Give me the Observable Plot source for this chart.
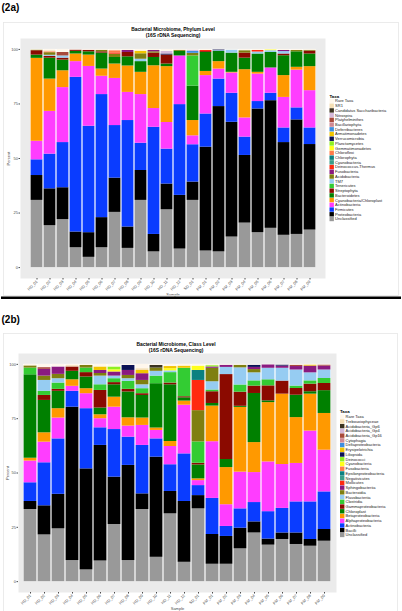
<!DOCTYPE html>
<html><head><meta charset="utf-8">
<script src="https://cdn.jsdelivr.net/npm/d3@7"></script>
<script src="https://cdn.jsdelivr.net/npm/@observablehq/plot@0.6"></script>
<style>
body{margin:0;background:#fff;}
#page{position:relative;width:402px;height:611px;overflow:hidden;background:#fff;}
#page svg{position:absolute;}
</style></head><body><div id="page"></div>
<script>
const samples = ["HD_01","HD_02","HD_03","HD_04","HD_05","HD_06","HD_07","HD_08","HD_09","HD_10","HD_11","HD_12","SD_01","PM_01","PM_02","PM_03","PM_04","PM_05","PM_06","PM_07","PM_08","PM_09"];

// ---- (2a) Phylum level ----
const phylumTaxa = ["Rare Taxa","SR1","Candidatus Saccharibacteria","Nitrospira","Platyhelminthes","Bacillariophyta","Deferribacteres","Armatimonadetes","Verrucomicrobia","Planctomycetes","Gemmatimonadetes","Chloroflexi","Chlorophyta","Cyanobacteria","Deinococcus-Thermus","Fusobacteria","Acidobacteria","TM7","Tenericutes","Streptophyta","Bacteroidetes","Cyanobacteria/Chloroplast","Actinobacteria","Firmicutes","Proteobacteria","Unclassified"];
const pUnclassified   = [30.8,19.2,22.0,9.1,4.7,9.1,25.3,8.8,30.8,7.2,26.5,8.5,30.8,7.6,7.2,14.0,20.4,16.0,18.0,14.8,15.2,17.2];
const pProteobacteria = [11.4,16.9,14.6,7.2,11.3,13.8,15.7,9.8,13.7,8.0,11.8,24.6,8.4,47.6,66.6,52.6,31.0,56.7,58.5,42.5,52.5,39.2];
const pFirmicutes     = [7.2,15.9,20.7,70.9,48.8,56.4,24.1,48.8,12.5,49.1,16.0,41.6,17.1,15.2,12.6,13.3,8.4,3.4,3.4,6.7,5.5,7.6];
const pActinobacteria = [8.5,19.6,25.2,7.2,27.4,8.4,21.6,12.9,22.3,8.6,12.2,22.3,4.1,17.6,4.6,9.3,8.8,12.6,11.6,14.0,17.3,17.1];
const pCyanoChloro    = [38.0,14.8,7.7,3.5,5.2,3.3,6.6,12.1,10.2,19.6,25.6,0,7.0,1.9,3.4,0.3,22.1,0.8,0,10.0,1.3,11.0];
const pBacteroidetes  = [1.5,9.6,4.9,1.2,1.5,7.3,3.0,4.2,4.9,3.8,1.2,2.1,15.8,8.7,4.7,8.8,5.3,8.4,7.1,9.1,7.1,5.8];
const pStreptophyta   = [2.0,0.8,0.9,0.6,0.7,0.6,0,2.0,0,2.0,4.1,0,0,0.4,0,0,2.3,0,0,0.8,0,1.3];
const pTenericutes    = [0,0,0,0,0,0,0,0,0,0,0,0,13.8,0,0,0,0,0,0,0,0,0];
const pTM7            = [0,0.5,1.0,0,0,0,0,0,1.1,0,0,0,0,0,0.3,1.4,0,0.9,0.8,1.1,0,0];
const pAcidobacteria  = [0.3,1.2,0,0,0,0.7,1.5,0,2.5,0.6,0,0.5,1.2,0,0,0,1.1,0,0,0,0.6,0.4];
const pFusobacteria   = [0,0,0,0,0,0,0,0.9,0,0.6,0,0,0,0,0,0,0,0,0,0.5,0,0];
const pDeinococcus    = [0,0,0,0,0,0,0.6,0,0,0,0,0,0,0.5,0,0,0,0.7,0,0,0,0];
const pChloroflexi    = [0,0.4,0,0,0,0,1.0,0,0,0,0,0,0,0,0,0,0,0,0,0,0,0];
const pGemmatimonadetes = [0,0,0,0,0,0,0,0,0,0,0,0,0,0,0,0,0,0,0.4,0,0,0];
const pVerrucomicrobia  = [0,0,0,0,0,0,0,0,0,0,0.5,0,0,0,0.4,0,0,0,0,0,0,0];
const pArmatimonadetes  = [0,0,0,0,0,0,0,0,1.2,0,0,0,0,0,0,0,0,0,0,0,0,0];
const pDeferribacteres  = [0,0,0,0,0,0,0,0,0,0,0,0,0.9,0,0,0,0,0,0,0,0,0];
const pPlatyhelminthes  = [0,0,1.6,0,0,0,0,0,0,0,0,0,0,0,0,0,0,0,0,0,0,0];
const pNitrospira       = [0,0,0,0,0,0,0,0,0,0,1.2,0,0.6,0,0,0,0,0,0,0,0,0];
const pSR1              = [0,0.5,0,0,0,0,0,0,0,0,0,0,0,0,0,0,0,0,0,0,0,0];
const pRare             = [0.3,0.6,1.4,0.3,0.4,0.4,0.6,0.5,0.8,0.5,0.9,0.4,0.3,0.5,0.2,0.3,0.6,0.5,0.2,0.5,0.5,0.4];

const phylumSeries = [
  ["Unclassified", pUnclassified], ["Proteobacteria", pProteobacteria], ["Firmicutes", pFirmicutes],
  ["Actinobacteria", pActinobacteria], ["Cyanobacteria/Chloroplast", pCyanoChloro], ["Bacteroidetes", pBacteroidetes],
  ["Streptophyta", pStreptophyta], ["Tenericutes", pTenericutes], ["TM7", pTM7], ["Acidobacteria", pAcidobacteria],
  ["Fusobacteria", pFusobacteria], ["Deinococcus-Thermus", pDeinococcus], ["Chloroflexi", pChloroflexi],
  ["Gemmatimonadetes", pGemmatimonadetes], ["Verrucomicrobia", pVerrucomicrobia], ["Armatimonadetes", pArmatimonadetes],
  ["Deferribacteres", pDeferribacteres], ["Platyhelminthes", pPlatyhelminthes], ["Nitrospira", pNitrospira],
  ["SR1", pSR1], ["Rare Taxa", pRare]
];

// ---- (2b) Class level ----
const classTaxa = ["Rare Taxa","Trebouxiophyceae","Acidobacteria_Gp6","Acidobacteria_Gp4","Acidobacteria_Gp16","Cytophagia","Deltaproteobacteria","Erysipelotrichia","Liliopsida","Deinococci","Cyanobacteria","Fusobacteria","Epsilonproteobacteria","Negativicutes","Mollicutes","Sphingobacteriia","Bacteroidia","Flavobacteriia","Clostridia","Gammaproteobacteria","Chloroplast","Betaproteobacteria","Alphaproteobacteria","Actinobacteria","Bacilli","Unclassified"];
const cUnclassified = [33.2,21.5,24.3,9.7,5.4,9.5,26.3,9.7,33.2,11.2,31.2,8.9,33.5,8.0,8.0,15.1,22.4,16.8,19.4,17.1,16.3,18.6];
const cBacilli      = [3.7,13.4,15.9,70.6,46.5,53.2,21.8,43.8,7.2,46.1,10.3,28.0,6.1,13.7,12.8,9.5,5.1,2.8,3.0,5.3,3.1,5.4];
const cActinobacteria = [8.6,19.8,25.5,7.3,27.7,8.1,21.9,13.0,22.3,8.4,12.3,21.9,4.6,16.6,4.6,8.9,8.9,12.6,11.3,14.3,17.3,17.3];
const cAlpha        = [10.0,9.5,9.6,2.3,6.9,4.2,10.3,5.1,9.2,3.9,8.4,22.4,2.3,26.1,10.0,16.9,13.8,22.9,20.2,17.7,32.6,19.2];
const cBeta         = [1.3,4.3,4.3,3.0,2.3,1.8,4.6,3.8,3.4,1.1,2.3,1.9,0.8,16.4,17.1,29.8,13.8,27.3,32.4,21.1,17.0,16.9];
const cChloroplast  = [38.4,14.9,8.0,3.9,5.4,3.1,5.7,11.9,10.4,20.4,26.1,1.5,6.4,1.2,3.7,0.5,22.6,0.8,0,10.3,1.1,10.5];
const cGamma        = [0,2.3,0.9,2.0,2.0,8.1,1.0,1.2,0.8,0,0.8,0.5,0.8,5.4,39.1,6.5,3.4,6.9,6.0,3.1,3.5,3.3];
const cClostridia   = [3.1,1.9,2.9,0,2.1,2.6,1.8,3.7,2.3,3.5,4.8,13.1,9.8,0.8,0,3.3,2.4,2.8,0,1.1,1.5,2.3];
const cFlavo        = [0,5.0,2.0,0,0,4.0,1.2,1.2,1.8,2.2,0.8,0,0,3.8,3.3,7.9,3.7,5.3,5.9,7.4,3.7,3.9];
const cBacteroidia  = [1.0,2.0,2.0,0,1.2,1.2,0,1.5,2.0,1.5,0,0,14.4,6.2,0,1.2,1.5,0,0,0,0,0];
const cSphingo      = [0,3.1,3.4,0,0,1.4,1.9,2.3,3.1,0,0,0,0,0.6,1.0,0,1.0,1.6,1.0,1.6,3.1,1.8];
const cMollicutes   = [0,0,0,0,0,0,0,0,0,0,0,0,13.9,0,0,0,0,0,0,0,0,0];
const cEpsilon      = [0,0,0,0,0,0,0,0,0,0,0,0,4.6,0,0,0,0,0,0,0,0,0];
const cCyanobacteria = [0,0,0,0,0,0,1.0,0,0,0,1.0,0,2.0,0,0,0,0,0,0,0,0,0];
const cDeinococci   = [0,0,0,0,0,0,1.3,0,0,0,0,0,0,0.6,0,0,0,0,0,0,0,0];
const cLiliopsida   = [0,0,0,0,0,0,0,2.3,0,0,0,0,0,0,0,0,1.0,0,0.5,0,0,0];
const cErysipelotrichia = [0,0,0,0,0,1.6,0,0,1.5,0,1.0,1.0,0,0,0,0,0,0,0,0,0.5,0];
const cGp16         = [0,0.8,0,0,0,0,0,0,0,0,0,0,0,0,0,0,0,0,0,0.6,0,0.5];
const cGp6          = [0,0,0,0,0,0,0,0,0,1.2,0,0,0,0,0,0,0,0,0,0,0,0];
const cTrebouxiophyceae = [0,0,0,0.6,0,0,0,0,0.8,0,0,0,0,0,0,0,0,0,0,0,0,0];
const cRare         = [0.7,1.5,1.2,0.6,0.5,1.2,1.2,0.5,2.0,0.5,1.0,0.8,0.8,0.6,0.4,0.4,0.4,0.2,0.3,0.4,0.3,0.3];

const classSeries = [
  ["Unclassified", cUnclassified], ["Bacilli", cBacilli], ["Actinobacteria", cActinobacteria],
  ["Alphaproteobacteria", cAlpha], ["Betaproteobacteria", cBeta], ["Chloroplast", cChloroplast],
  ["Gammaproteobacteria", cGamma], ["Clostridia", cClostridia], ["Flavobacteriia", cFlavo],
  ["Bacteroidia", cBacteroidia], ["Sphingobacteriia", cSphingo], ["Mollicutes", cMollicutes],
  ["Epsilonproteobacteria", cEpsilon], ["Cyanobacteria", cCyanobacteria], ["Deinococci", cDeinococci],
  ["Liliopsida", cLiliopsida], ["Erysipelotrichia", cErysipelotrichia], ["Acidobacteria_Gp16", cGp16],
  ["Acidobacteria_Gp6", cGp6], ["Trebouxiophyceae", cTrebouxiophyceae], ["Rare Taxa", cRare]
];

// shared palette, in legend order (top -> bottom)
const palette = ["#FFF7EC","#F5DEB3","#3A3320","#D4B8DA","#A8493B","#D08A95","#3D8EE0","#F2C500","#0B1255","#8EF020","#FFFF1A","#FF7A4A","#0A8080","#3A9E8A","#FF2A10","#8A1A80","#7F7F10","#96CCF2","#33CC33","#8B0A00","#008000","#FF9900","#FF3DFF","#0A3CFF","#000000","#999999"];

const FONT = "Liberation Sans, Arial, Helvetica, sans-serif";

function toRows(series) {
  const rows = [];
  for (const [taxon, vals] of series) vals.forEach((v, i) => { if (v > 0) rows.push({sample: samples[i], taxon, value: v}); });
  return rows;
}

function chart({series, taxa, width, height, marginLeft, marginRight, marginBottom, yLabelOffset, xLabelOffset}) {
  return Plot.plot({
    width, height, marginLeft, marginRight, marginTop: 0, marginBottom,
    style: {fontFamily: FONT, fontSize: "4px", color: "#4d4d4d", background: "transparent", overflow: "visible"},
    x: {domain: samples, padding: 0},
    y: {domain: [-5, 105]},
    color: {domain: taxa, range: palette},
    marks: [
      Plot.frame({fill: "#EBEBEB", stroke: null}),
      Plot.barY(samples, {x: d => d, y1: 0, y2: 100, fill: "white"}),
      Plot.barY(toRows(series), {x: "sample", y: "value", fill: "taxon", order: [...taxa].reverse(), insetLeft: 0.6, insetRight: 0.6}),
      Plot.axisY({ticks: [0, 25, 50, 75, 100], tickSize: 1.5, tickPadding: 1, fontSize: 4, label: "Percent", labelAnchor: "center", labelArrow: "none", labelOffset: yLabelOffset}),
      Plot.axisX({tickRotate: -45, tickSize: 1.5, tickPadding: 1, fontSize: 4, label: "Sample", labelAnchor: "center", labelArrow: "none", labelOffset: xLabelOffset})
    ]
  });
}

const page = document.getElementById("page");

const chartA = chart({series: phylumSeries, taxa: phylumTaxa, width: 330, height: 258, marginLeft: 20, marginRight: 5, marginBottom: 18, yLabelOffset: 13, xLabelOffset: 17});
chartA.style.left = "0px"; chartA.style.top = "38px";
page.appendChild(chartA);

const chartB = chart({series: classSeries, taxa: classTaxa, width: 340, height: 258, marginLeft: 18, marginRight: 4, marginBottom: 19, yLabelOffset: 12, xLabelOffset: 17});
chartB.style.left = "0px"; chartB.style.top = "353px";
page.appendChild(chartB);

// overlay: figure labels, frames, titles, legends
const svg = d3.select(page).append("svg").attr("width", 402).attr("height", 611)
  .style("left", "0px").style("top", "0px").style("pointer-events", "none")
  .attr("font-family", FONT);

svg.append("rect").attr("x", 3.5).attr("y", 22.5).attr("width", 395).attr("height", 273).attr("fill", "none").attr("stroke", "#e6e6e6").attr("stroke-width", 0.8);
svg.append("rect").attr("x", 3.5).attr("y", 333.5).attr("width", 394).attr("height", 300).attr("fill", "none").attr("stroke", "#e6e6e6").attr("stroke-width", 0.8);
svg.append("rect").attr("x", 1).attr("y", 296.5).attr("width", 400).attr("height", 2.5).attr("fill", "#000");

svg.append("text").attr("x", 1.5).attr("y", 11).attr("font-size", 10).attr("font-weight", "bold").text("(2a)");
svg.append("text").attr("x", 1.5).attr("y", 323).attr("font-size", 10).attr("font-weight", "bold").text("(2b)");

function title(cx, y1, y2, line1) {
  svg.append("text").attr("x", cx).attr("y", y1).attr("text-anchor", "middle").attr("font-size", 4.9).attr("font-weight", "bold").text(line1);
  svg.append("text").attr("x", cx).attr("y", y2).attr("text-anchor", "middle").attr("font-size", 4.9).attr("font-weight", "bold").text("(16S rDNA Sequencing)");
}
title(173, 31, 36.8, "Bacterial Microbiome, Phylum Level");
title(176, 346, 352, "Bacterial Microbiome, Class Level");

function legend(taxa, kx, ty, y0, step) {
  svg.append("text").attr("x", kx).attr("y", ty).attr("font-size", 4.4).attr("font-weight", "bold").text("Taxa");
  taxa.forEach((t, i) => {
    const cy = y0 + step * i;
    svg.append("rect").attr("x", kx).attr("y", cy - 2.2).attr("width", 4.4).attr("height", 4.4).attr("fill", palette[i]);
    svg.append("text").attr("x", kx + 5.6).attr("y", cy).attr("dy", "0.35em").attr("font-size", 4).attr("fill", "#1a1a1a").text(t);
  });
}
legend(phylumTaxa, 329.5, 97.5, 101, 4.72);
legend(classTaxa, 340, 413, 416.7, 4.73);
</script></body></html>
